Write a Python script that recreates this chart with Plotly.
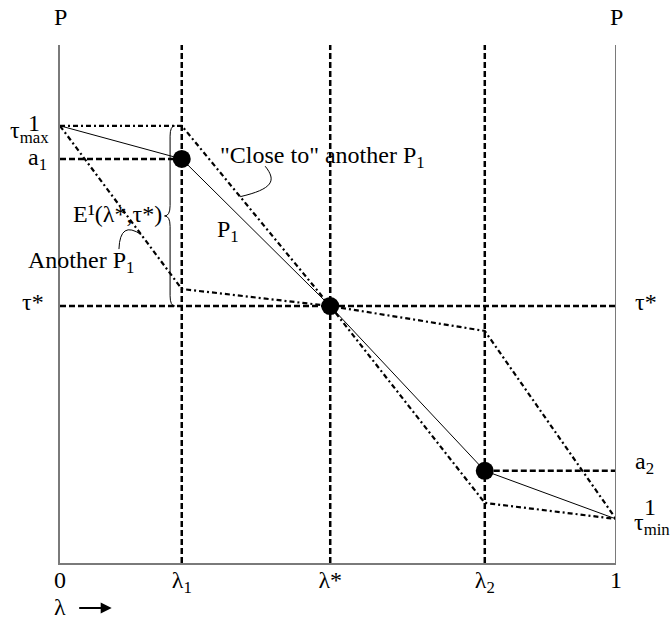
import plotly.graph_objects as go

# lambda positions: 0, lambda_1, lambda*, lambda_2, 1
LAM = [0.0, 0.219, 0.486, 0.764, 1.0]
# preference path P1 through (lambda_1, a1), (lambda*, tau*), (lambda_2, a2)
P1 = [0.844, 0.780, 0.496, 0.178, 0.085]
# a path "close to" another P1
CLOSE_P1 = [0.844, 0.844, 0.496, 0.116, 0.085]
# another P1
OTHER_P1 = [0.844, 0.529, 0.496, 0.448, 0.085]
TICK_TEXT = ["0", "λ<sub>1</sub>", "λ*", "λ<sub>2</sub>", "1"]

lam1, lam_s, lam2 = LAM[1], LAM[2], LAM[3]
tau_max, a1, tau_s, a2, tau_min = P1

FONT = "Times New Roman, Liberation Serif, DejaVu Serif, serif"
FS = 24
AXIS_GREY = "#7a7a7a"
DASH = "6px,3px"
DASHDOT = "5px,3px,2px,3px"

fig = go.Figure()

def seg(xs, ys, dash=None, width=2.0):
    fig.add_trace(go.Scatter(x=xs, y=ys, mode="lines",
                             line=dict(color="black", width=width, dash=dash),
                             hoverinfo="skip", showlegend=False))

# vertical guide lines at lambda_1, lambda*, lambda_2
for v in (lam1, lam_s, lam2):
    seg([v, v], [0, 1], DASH, 2.5)
# horizontal guide lines
seg([0, lam1], [a1, a1], DASH, 2.5)
seg([0, 1], [tau_s, tau_s], DASH, 2.5)
seg([lam2, 1], [a2, a2], DASH, 2.5)

# the two alternative paths
seg(LAM, CLOSE_P1, DASHDOT, 2.2)
seg(LAM, OTHER_P1, DASHDOT, 2.2)

# P1 itself
seg(LAM, P1, None, 1)

# the three points of P1
fig.add_trace(go.Scatter(x=LAM[1:4], y=P1[1:4], mode="markers",
                         marker=dict(color="black", size=18),
                         hoverinfo="skip", showlegend=False, cliponaxis=False))

shapes = []
# right border of the frame
shapes.append(dict(type="line", xref="x", yref="y", x0=1, x1=1, y0=0, y1=1,
                   line=dict(color=AXIS_GREY, width=2)))

# brace spanning tau_max .. tau* next to lambda_1
bx_end, bx_body, bx_tip = lam1 - 0.012, lam1 - 0.021, lam1 - 0.031
dy = 0.02
mid = (tau_max + tau_s) / 2
brace = (f"M {bx_end},{tau_max} Q {bx_body},{tau_max} {bx_body},{tau_max - dy} "
         f"L {bx_body},{mid + dy} Q {bx_body},{mid} {bx_tip},{mid} "
         f"Q {bx_body},{mid} {bx_body},{mid - dy} L {bx_body},{tau_s + dy} "
         f"Q {bx_body},{tau_s} {bx_end},{tau_s}")
shapes.append(dict(type="path", xref="x", yref="y", path=brace,
                   line=dict(color="black", width=1)))

def on_segment(xs, ys, i, x):
    t = (x - xs[i]) / (xs[i + 1] - xs[i])
    return ys[i] + t * (ys[i + 1] - ys[i])

# leader from the "Close to" label to its path
ex = 0.324
ey = on_segment(LAM, CLOSE_P1, 1, ex)
shapes.append(dict(type="path", xref="x", yref="y",
                   path=f"M 0.369,0.766 C 0.390,0.738 0.383,0.722 {ex},{ey}",
                   line=dict(color="black", width=1)))
# leader from the "Another P1" label to its path
ex2 = 0.146
ey2 = on_segment(LAM, OTHER_P1, 0, ex2)
shapes.append(dict(type="path", xref="x", yref="y",
                   path=f"M 0.106,0.606 Q 0.108,0.662 {ex2},{ey2}",
                   line=dict(color="black", width=1)))

ann = []
def text(x, y, s, xanchor="center", yanchor="middle", xshift=0, yshift=0,
         size=FS, yref="y"):
    ann.append(dict(x=x, y=y, xref="x", yref=yref, text=s, showarrow=False,
                    xanchor=xanchor, yanchor=yanchor, xshift=xshift, yshift=yshift,
                    font=dict(family=FONT, size=size, color="black")))

# axis titles P on both sides
text(0, 1, "P", yshift=28)
text(1, 1, "P", yshift=28)
# left labels
text(0, tau_max, "τ<sub>max</sub>", xanchor="right", xshift=-9, yshift=-6)
text(0, tau_max, "1", xshift=-26, yshift=3)
text(0, a1, "a<sub>1</sub>", xanchor="right", xshift=-11, yshift=0)
text(0, tau_s, "τ*", xanchor="right", xshift=-14, yshift=4)
# right labels
text(1, tau_s, "τ*", xanchor="left", xshift=17, yshift=4)
text(1, a2, "a<sub>2</sub>", xanchor="left", xshift=17, yshift=8)
text(1, tau_min, "τ<sub>min</sub>", xanchor="left", xshift=16, yshift=-5)
text(1, tau_min, "1", xshift=34, yshift=12)
# in-plot labels
text(0.187, 0.674, "E¹(λ*,τ*)", xanchor="right")
text(0.137, 0.581, "Another P<sub>1</sub>", xanchor="right")
text(0.302, 0.641, "P<sub>1</sub>")
text(0.284, 0.784, "\"Close to\" another P<sub>1</sub>", xanchor="left")
# lambda direction below the axis
text(0, 0, "λ", yref="paper", yshift=-44)
ann.append(dict(x=0.093, y=0, xref="x", yref="paper", ax=-34, ay=0,
                yshift=-45, text="", showarrow=True, arrowhead=2,
                arrowsize=1.1, arrowwidth=2, arrowcolor="black"))

fig.update_layout(
    width=670, height=622,
    margin=dict(l=60, r=54, t=45, b=59),
    plot_bgcolor="white", paper_bgcolor="white",
    font=dict(family=FONT, size=FS, color="black"),
    shapes=shapes, annotations=ann,
    xaxis=dict(range=[0, 1], showgrid=False, zeroline=False,
               showline=True, linecolor=AXIS_GREY, linewidth=2,
               ticks="", tickvals=LAM, ticktext=TICK_TEXT,
               ticklabelstandoff=-6,
               tickfont=dict(family=FONT, size=FS, color="black")),
    yaxis=dict(range=[0, 1], showgrid=False, zeroline=False,
               showline=True, linecolor=AXIS_GREY, linewidth=2,
               ticks="", showticklabels=False),
)

fig.write_html("out.html")
